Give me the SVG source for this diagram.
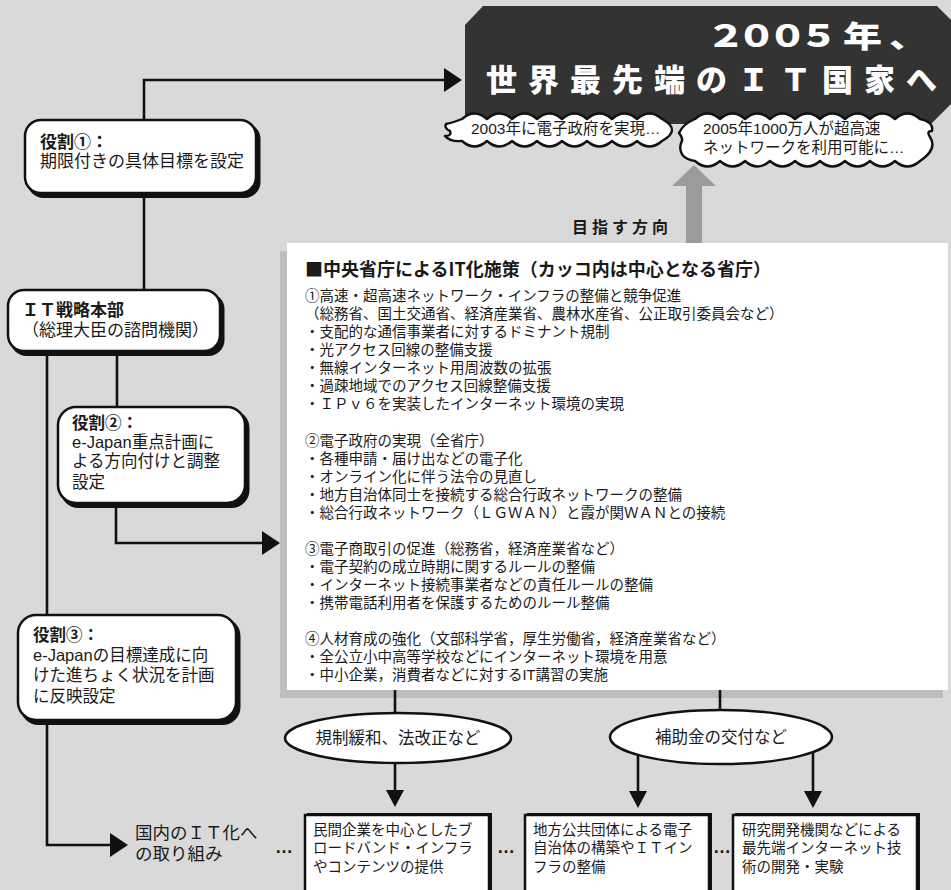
<svg xmlns="http://www.w3.org/2000/svg" width="951" height="890" viewBox="0 0 951 890">
<defs>
<style>
text { font-family: "Liberation Sans", "Noto Sans CJK JP", sans-serif; fill: #1a1a1a; }
.jp { font-family: "Noto Sans CJK JP", "Noto Sans", sans-serif; }
.b { font-weight: bold; }
.conn { fill: none; stroke: #111; stroke-width: 2.6; }
.node { fill: #fff; stroke: #111; stroke-width: 2.5; }
.shadow { fill: #111; }
.body { font-size: 14.5px; }
.lt { font-size: 17px; }
.lt2 { font-size: 16.5px; }
.bx { font-size: 14.5px; }
.el { font-size: 16.5px; }
.cloud { fill: #fff; stroke: #111; stroke-width: 2.4; stroke-linejoin: round; }
.ct { font-size: 15.5px; }
.title { fill: #fff; font-weight: 900; font-family: "Noto Sans CJK JP", sans-serif; }
.dots { font-size: 18px; font-weight: bold; }
</style>
<marker id="ah" viewBox="0 0 18 24" markerWidth="18" markerHeight="24" refX="15" refY="12" orient="auto" markerUnits="userSpaceOnUse"><path d="M0,0 L18,12 L0,24 Z" fill="#111"/></marker>
<marker id="as" viewBox="0 0 17 18" markerWidth="17" markerHeight="18" refX="14" refY="9" orient="auto" markerUnits="userSpaceOnUse"><path d="M0,0 L17,9 L0,18 Z" fill="#111"/></marker>
</defs>

<rect x="0" y="0" width="951" height="890" fill="#d9d9d9"/>

<g id="banner">
<polygon points="483,6 937,6 951,20 951,104 931,124 465,124 465,25" fill="#333"/>
<text class="title" font-size="30" transform="scale(1.3 1)" x="543.3 566.9 590.8 614.6 648.5 683.8" y="47">２００５年、</text>
<text class="title" font-size="31" x="486 528 570 612 654 696 738 780 822 864 906" y="91">世界最先端のＩＴ国家へ</text>
</g>

<g id="cloud1">
<path class="cloud" d="M462 119 q12.5 -11 25 0 q12.5 -11 25 0 q12.5 -11 25 0 q12.5 -11 25 0 q12.5 -11 25 0 q12.5 -11 25 0 q12.5 -11 25 0 q12.5 -11 25 0 q20 11 0 22 q-12.5 11 -25 0 q-12.5 11 -25 0 q-12.5 11 -25 0 q-12.5 11 -25 0 q-12.5 11 -25 0 q-12.5 11 -25 0 q-12.5 11 -25 0 q-12.5 11 -25 0 q-12 1 -17 -5 q7 0 5 -5 q-6 -3 -4 -7 q6 -1 16 -5 Z"/>
<text class="ct" x="471" y="134">2003年に電子政府を実現…</text>
</g>

<g id="cloud2">
<path class="cloud" d="M695 119 q12.5 -11 25 0 q12.5 -11 25 0 q12.5 -11 25 0 q12.5 -11 25 0 q12.5 -11 25 0 q12.5 -11 25 0 q12.5 -11 25 0 q12.5 -11 25 0 q12.5 -11 25 0 q14 3 12 12 q-6 0 -2 6 q8 12 -10 24 q-12.5 11 -25 0 q-12.5 11 -25 0 q-12.5 11 -25 0 q-12.5 11 -25 0 q-12.5 11 -25 0 q-12.5 11 -25 0 q-12.5 11 -25 0 q-12.5 11 -25 0 q-12.5 11 -25 0 q-18 -3 -14 -18 q3 -4 -2 -10 q4 -9 16 -14 Z"/>
<text class="ct" x="703" y="134">2005年1000万人が超高速</text>
<text class="ct" x="703" y="153">ネットワークを利用可能に…</text>
</g>

<g id="direction">
<polygon points="694,165 716,186 702,186 702,244 686,244 686,186 672,186" fill="#9b9b9b"/>
<text class="b jp" font-size="16" letter-spacing="4" x="572" y="233">目指す方向</text>
</g>

<g id="panel">
<rect x="280" y="251" width="663" height="447" fill="#bdbdbd"/>
<rect x="287" y="243" width="661" height="447" fill="#fff"/>
<text class="b jp" font-size="18" x="305" y="276">■中央省庁によるIT化施策（カッコ内は中心となる省庁）</text>
<g class="body">
<text x="305" y="301">①高速・超高速ネットワーク・インフラの整備と競争促進</text>
<text x="305" y="319">（総務省、国土交通省、経済産業省、農林水産省、公正取引委員会など）</text>
<text x="305" y="337">・支配的な通信事業者に対するドミナント規制</text>
<text x="305" y="355">・光アクセス回線の整備支援</text>
<text x="305" y="373">・無線インターネット用周波数の拡張</text>
<text x="305" y="391">・過疎地域でのアクセス回線整備支援</text>
<text x="305" y="409">・ＩＰｖ６を実装したインターネット環境の実現</text>
<text x="305" y="446">②電子政府の実現（全省庁）</text>
<text x="305" y="464">・各種申請・届け出などの電子化</text>
<text x="305" y="482">・オンライン化に伴う法令の見直し</text>
<text x="305" y="500">・地方自治体同士を接続する総合行政ネットワークの整備</text>
<text x="305" y="518">・総合行政ネットワーク（ＬＧＷＡＮ）と霞が関ＷＡＮとの接続</text>
<text x="305" y="554">③電子商取引の促進（総務省，経済産業省など）</text>
<text x="305" y="572">・電子契約の成立時期に関するルールの整備</text>
<text x="305" y="590">・インターネット接続事業者などの責任ルールの整備</text>
<text x="305" y="608">・携帯電話利用者を保護するためのルール整備</text>
<text x="305" y="644">④人材育成の強化（文部科学省，厚生労働省，経済産業省など）</text>
<text x="305" y="662">・全公立小中高等学校などにインターネット環境を用意</text>
<text x="305" y="680">・中小企業，消費者などに対するIT講習の実施</text>
</g>
</g>

<g id="connectors">
<path class="conn" d="M144 120 V80 H459" marker-end="url(#ah)"/>
<path class="conn" d="M144 195 V290"/>
<path class="conn" d="M117 353 V407"/>
<path class="conn" d="M47 353 V615"/>
<path class="conn" d="M47 722 V845 H125" marker-end="url(#ah)"/>
<path class="conn" d="M116 505 V543 H277" marker-end="url(#ah)"/>
<path class="conn" d="M395 690 V714"/>
<path class="conn" d="M720 690 V711"/>
<path class="conn" d="M395 763 V804" marker-end="url(#as)"/>
<path class="conn" d="M638 754 V805" marker-end="url(#as)"/>
<path class="conn" d="M813 750 V805" marker-end="url(#as)"/>
</g>

<g id="role1">
<rect class="shadow" x="27.5" y="123" width="233" height="75" rx="16"/>
<rect class="node" x="25" y="120" width="231" height="73" rx="16"/>
<text class="lt b" x="40" y="148">役割①：</text>
<text class="lt" x="40" y="167">期限付きの具体目標を設定</text>
</g>

<g id="it-hq">
<rect class="shadow" x="10.5" y="293" width="214" height="63" rx="16"/>
<rect class="node" x="8" y="290" width="212" height="61" rx="16"/>
<text class="lt b" x="22" y="316">ＩＴ戦略本部</text>
<text class="lt" x="22" y="336">（総理大臣の諮問機関）</text>
</g>

<g id="role2">
<rect class="shadow" x="60.5" y="410" width="189" height="98" rx="18"/>
<rect class="node" x="58" y="407" width="187" height="96" rx="18"/>
<text class="lt2 b" x="72" y="429">役割②：</text>
<text class="lt2" x="72" y="448">e-Japan重点計画に</text>
<text class="lt2" x="72" y="467">よる方向付けと調整</text>
<text class="lt2" x="72" y="488">設定</text>
</g>

<g id="role3">
<rect class="shadow" x="20.5" y="618" width="220" height="107" rx="18"/>
<rect class="node" x="18" y="615" width="218" height="105" rx="18"/>
<text class="lt2 b" x="33" y="641">役割③：</text>
<text class="lt2" x="33" y="661">e-Japanの目標達成に向</text>
<text class="lt2" x="33" y="681">けた進ちょく状況を計画</text>
<text class="lt2" x="33" y="702">に反映設定</text>
</g>

<g id="domestic">
<text font-size="17.5" x="135" y="839">国内のＩＴ化へ</text>
<text font-size="17.5" x="135" y="860">の取り組み</text>
</g>

<g id="deregulation">
<ellipse class="node" cx="398" cy="738" rx="113" ry="25"/>
<text class="el" x="398" y="744" text-anchor="middle">規制緩和、法改正など</text>
</g>

<g id="subsidy">
<ellipse class="node" cx="721" cy="737" rx="111" ry="27"/>
<text class="el" x="721" y="743" text-anchor="middle">補助金の交付など</text>
</g>

<g id="dots">
<text class="dots" x="275" y="853">…</text>
<text class="dots" x="497" y="853">…</text>
<text class="dots" x="713" y="853">…</text>
</g>

<g id="boxA">
<rect class="shadow" x="307" y="813" width="185" height="90"/>
<rect class="node" x="305" y="815" width="184" height="90" stroke-width="2"/>
<text class="bx" x="313" y="835">民間企業を中心としたブ</text>
<text class="bx" x="313" y="853">ロードバンド・インフラ</text>
<text class="bx" x="313" y="872">やコンテンツの提供</text>
</g>

<g id="boxB">
<rect class="shadow" x="527" y="813" width="185" height="90"/>
<rect class="node" x="525" y="815" width="184" height="90" stroke-width="2"/>
<text class="bx" x="533" y="835">地方公共団体による電子</text>
<text class="bx" x="533" y="853">自治体の構築やＩＴイン</text>
<text class="bx" x="533" y="872">フラの整備</text>
</g>

<g id="boxC">
<rect class="shadow" x="735" y="813" width="185" height="90"/>
<rect class="node" x="733" y="815" width="184" height="90" stroke-width="2"/>
<text class="bx" x="742" y="835">研究開発機関などによる</text>
<text class="bx" x="742" y="853">最先端インターネット技</text>
<text class="bx" x="742" y="872">術の開発・実験</text>
</g>
</svg>
